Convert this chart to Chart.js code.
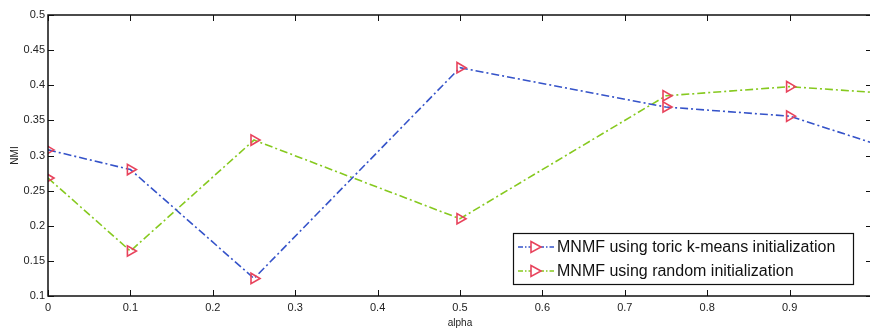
<!DOCTYPE html>
<html>
<head>
<meta charset="utf-8">
<script src="https://cdn.jsdelivr.net/npm/chart.js@4.4.1/dist/chart.umd.min.js"></script>
<style>
  html, body { margin: 0; padding: 0; background: #fff; overflow: hidden; }
  #wrap { width: 900px; height: 329px; }
</style>
</head>
<body>
<div id="wrap"><canvas id="chart" width="900" height="329"></canvas></div>
<script>
// alpha values where the runs were made
const alphas = [0, 0.1, 0.25, 0.5, 0.75, 0.9, 1.0];
const toricNMI = [0.308, 0.28, 0.125, 0.425, 0.369, 0.356, 0.318];
const randomNMI = [0.268, 0.164, 0.322, 0.21, 0.385, 0.398, 0.39];
const seriesLabels = ['MNMF using toric k-means initialization', 'MNMF using random initialization'];
const seriesColors = ['#3553c9', '#86c91f'];
const markerColor = '#e8435c';

function pts(vals) {
  return alphas.map((a, i) => ({ x: a, y: vals[i] }));
}
// the marker at alpha = 1 is cut off in the original figure
const radii = alphas.map(a => (a >= 1 ? 0 : 6));

// MATLAB style: ticks pointing inward on all four sides, full box
const innerTicks = {
  id: 'innerTicks',
  afterDraw(chart) {
    const c = chart.ctx, a = chart.chartArea;
    const xs = chart.scales.x, ys = chart.scales.y;
    const len = 6;
    c.save();
    c.strokeStyle = '#111';
    c.lineWidth = 1;
    c.beginPath();
    xs.ticks.forEach(t => {
      const px = Math.round(xs.getPixelForValue(t.value)) + 0.5;
      c.moveTo(px, a.bottom); c.lineTo(px, a.bottom - len);
      c.moveTo(px, a.top); c.lineTo(px, a.top + len);
    });
    ys.ticks.forEach(t => {
      const py = Math.round(ys.getPixelForValue(t.value)) + 0.5;
      c.moveTo(a.left, py); c.lineTo(a.left + len, py);
      c.moveTo(a.right, py); c.lineTo(a.right - len, py);
    });
    c.stroke();
    c.lineWidth = 1.5;
    c.strokeRect(a.left, a.top, a.right - a.left, a.bottom - a.top);
    c.restore();
  }
};

// boxed legend in the lower right corner of the axes
const boxLegend = {
  id: 'boxLegend',
  afterDraw(chart) {
    const c = chart.ctx;
    const x0 = 513, y0 = 233, w = 340, h = 51;
    c.save();
    c.fillStyle = '#fff';
    c.fillRect(x0, y0, w, h);
    c.strokeStyle = '#111';
    c.lineWidth = 1.2;
    c.strokeRect(x0 + 0.5, y0 + 0.5, w, h);
    c.font = '16px "Liberation Sans", Arial, sans-serif';
    c.textBaseline = 'middle';
    chart.data.datasets.forEach((ds, i) => {
      const cy = y0 + 14 + i * 24;
      c.strokeStyle = ds.borderColor;
      c.lineWidth = 1.5;
      c.setLineDash([5, 2, 1.5, 2]);
      c.beginPath();
      c.moveTo(x0 + 5, cy); c.lineTo(x0 + 41, cy);
      c.stroke();
      c.setLineDash([]);
      // right-pointing open triangle
      c.strokeStyle = markerColor;
      c.fillStyle = '#fff';
      c.lineWidth = 1.6;
      c.beginPath();
      c.moveTo(x0 + 18, cy - 5.5);
      c.lineTo(x0 + 28, cy);
      c.lineTo(x0 + 18, cy + 5.5);
      c.closePath();
      c.fill();
      c.stroke();
      c.fillStyle = '#111';
      c.fillText(ds.label, x0 + 44, cy + 1);
    });
    c.restore();
  }
};

new Chart(document.getElementById('chart'), {
  type: 'line',
  data: {
    datasets: [
      {
        label: seriesLabels[0],
        data: pts(toricNMI),
        borderColor: seriesColors[0],
        borderWidth: 1.6,
        borderDash: [8, 3, 2, 3],
        pointStyle: 'triangle',
        rotation: 90,
        pointRadius: radii,
        pointBorderColor: markerColor,
        pointBackgroundColor: 'rgba(255,255,255,0)',
        pointBorderWidth: 1.6,
        tension: 0
      },
      {
        label: seriesLabels[1],
        data: pts(randomNMI),
        borderColor: seriesColors[1],
        borderWidth: 1.6,
        borderDash: [8, 3, 2, 3],
        pointStyle: 'triangle',
        rotation: 90,
        pointRadius: radii,
        pointBorderColor: markerColor,
        pointBackgroundColor: 'rgba(255,255,255,0)',
        pointBorderWidth: 1.6,
        tension: 0
      }
    ]
  },
  options: {
    responsive: false,
    animation: false,
    layout: { padding: { left: 0, right: 28, top: 15, bottom: 0 } },
    plugins: {
      legend: { display: false },
      tooltip: { enabled: false }
    },
    scales: {
      x: {
        type: 'linear',
        min: 0,
        max: 1,
        afterFit(s) { s.height = 33; },
        ticks: {
          stepSize: 0.1,
          maxRotation: 0,
          padding: 5,
          color: '#222',
          font: { family: '"Liberation Sans", Arial, sans-serif', size: 11 },
          callback: v => (v >= 1 ? '' : Math.round(v * 10) / 10)
        },
        grid: { display: false, drawTicks: false },
        border: { display: false },
        title: {
          display: true,
          text: 'alpha',
          color: '#222',
          padding: { top: 1, bottom: 0 },
          font: { family: '"Liberation Sans", Arial, sans-serif', size: 10 }
        }
      },
      y: {
        min: 0.1,
        max: 0.5,
        afterFit(s) { s.width = 48; },
        ticks: {
          stepSize: 0.05,
          padding: 3,
          color: '#222',
          font: { family: '"Liberation Sans", Arial, sans-serif', size: 11 },
          callback: v => Math.round(v * 100) / 100
        },
        grid: { display: false, drawTicks: false },
        border: { display: false },
        title: {
          display: true,
          text: 'NMI',
          color: '#222',
          padding: { top: 9, bottom: 0 },
          font: { family: '"Liberation Sans", Arial, sans-serif', size: 10 }
        }
      }
    }
  },
  plugins: [innerTicks, boxLegend]
});
</script>
</body>
</html>
